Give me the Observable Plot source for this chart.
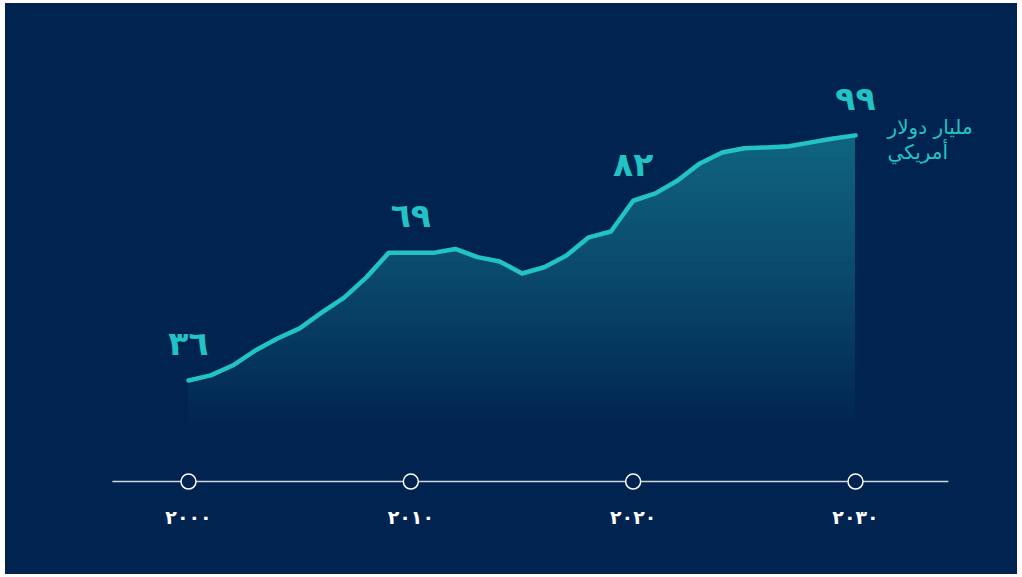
<!DOCTYPE html>
<html><head><meta charset="utf-8">
<script src="https://cdn.jsdelivr.net/npm/d3@7"></script>
<script src="https://cdn.jsdelivr.net/npm/@observablehq/plot@0.6"></script>
<style>
html,body{margin:0;padding:0;background:#fff;}
#chart{position:absolute;left:5px;top:3px;}
</style></head><body><div id="chart"></div>
<script>
const years = [2000,2001,2002,2003,2004,2005,2006,2007,2008,2009,2010,2011,2012,2013,2014,2015,2016,2017,2018,2019,2020,2021,2022,2023,2024,2025,2026,2027,2028,2029,2030];
const values = [36,37.3,39.9,43.7,46.8,49.4,53.5,57.3,62.5,68.8,68.8,68.8,69.8,67.7,66.6,63.5,65.1,68.1,72.8,74.3,82.2,84.1,87.4,91.8,94.6,95.7,95.9,96.2,97.2,98.2,99];
const labelYears = [2000,2010,2020,2030];
const labelValues = [36,69,82,99];
const labelTexts = ["٣٦","٦٩","٨٢","٩٩"];
const tickYears = [2000,2010,2020,2030];
const tickLabels = ["٢٠٠٠","٢٠١٠","٢٠٢٠","٢٠٣٠"];
const unitText = "مليار دولار\nأمريكي";
const axisSpan = [1996.6, 2034.2];
const axisLevel = 10;

const bg = "#00234f";
const teal = "#22c3c5";

const data = years.map((year, i) => ({year, value: values[i]}));
const labels = labelYears.map((year, i) => ({year, value: labelValues[i], text: labelTexts[i]}));
const ticks = tickYears.map((year, i) => ({year, text: tickLabels[i]}));

function gradientDefs() {
  const defs = d3.create("svg:defs");
  const g = defs.append("linearGradient").attr("id", "areaGrad")
    .attr("x1", 0).attr("y1", 0).attr("x2", 0).attr("y2", 1);
  g.append("stop").attr("offset", 0).attr("stop-color", "#0f657d");
  g.append("stop").attr("offset", 0.35).attr("stop-color", "#0a4a6c");
  g.append("stop").attr("offset", 0.77).attr("stop-color", bg);
  g.append("stop").attr("offset", 1).attr("stop-color", bg);
  return defs.node();
}

const plot = Plot.plot({
  width: 1012, height: 571,
  marginLeft: 183, marginRight: 162, marginTop: 128, marginBottom: 54,
  x: {domain: [2000, 2030], axis: null},
  y: {domain: [0, 100], axis: null},
  style: {background: bg, fontFamily: "DejaVu Sans", overflow: "visible"},
  marks: [
    gradientDefs,
    Plot.areaY(data, {x: "year", y: "value", fill: "url(#areaGrad)"}),
    Plot.lineY(data, {x: "year", y: "value", stroke: teal, strokeWidth: 4.5, strokeLinecap: "round", strokeLinejoin: "round"}),
    Plot.ruleY([axisLevel], {x1: axisSpan[0], x2: axisSpan[1], stroke: "#cfd5de", strokeWidth: 1.5}),
    Plot.dot(ticks, {x: "year", y: axisLevel, r: 7.5, fill: bg, stroke: "#ffffff", strokeWidth: 1.5}),
    Plot.text(ticks, {x: "year", y: 0, text: "text", fill: "#ffffff", fontSize: 19, fontWeight: "bold", dy: -3}),
    Plot.text(labels, {x: "year", y: "value", text: "text", fill: teal, fontSize: 33, fontWeight: "bold", dy: -36}),
    Plot.text([unitText], {x: 2030, y: 99, text: d => d, fill: teal, fontSize: 20, textAnchor: "start", lineHeight: 1.25, dx: 32, dy: 3})
  ]
});
document.getElementById("chart").append(plot);
</script>
</body></html>
